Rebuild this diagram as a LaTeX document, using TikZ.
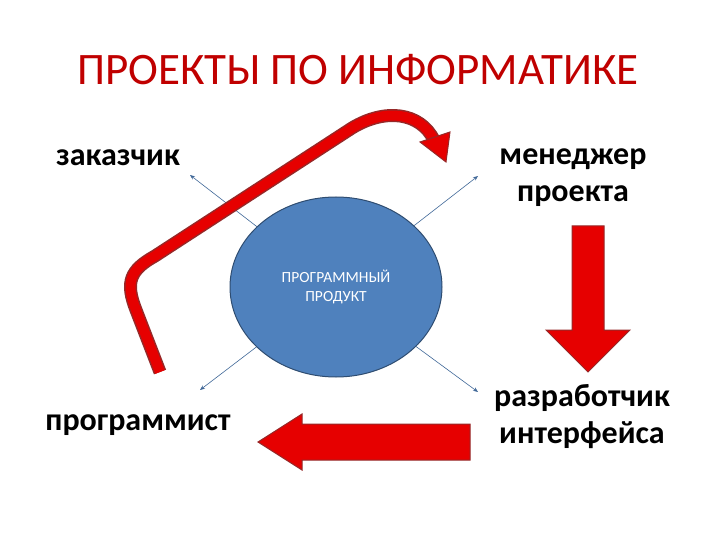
\documentclass[tikz,border=0pt]{standalone}
\usepackage{fontspec}
\setmainfont{Carlito}
\usetikzlibrary{arrows.meta,shapes.geometric}
\definecolor{ared}{RGB}{230,0,0}
\definecolor{aedge}{RGB}{150,40,40}
\definecolor{ell}{RGB}{79,129,189}
\definecolor{ttl}{RGB}{192,0,0}
\tikzset{lbl/.style={font=\fontsize{32}{37}\selectfont\bfseries, align=center},
 spoke/.style={draw=ell!80!black, line width=0.6pt, -{Stealth[length=5pt,width=4pt]}},
 bigarrow/.style={fill=ared, draw=aedge, line width=1pt}}
\begin{document}
\begin{tikzpicture}[x=1pt,y=-1pt]
\useasboundingbox (0,0) rectangle (720,540);
\node[text=ttl, font=\fontsize{45}{50}\selectfont] (title) at (358,70) {ПРОЕКТЫ ПО ИНФОРМАТИКЕ};
\node[lbl] (zak) at (118,158) {заказчик};
\node[lbl] (men) at (573,178) {менеджер\\проекта};
\node[lbl] (prog) at (138,425) {программист};
\node[lbl] (raz) at (582,417) {разработчик\\интерфейса};
\coordinate (c) at (335,287);
\coordinate (ul) at (190,175);
\coordinate (ur) at (478,176);
\coordinate (dl) at (200,390);
\coordinate (dr) at (478,392);
\draw[spoke] (c) -- (ul);
\draw[spoke] (c) -- (ur);
\draw[spoke] (c) -- (dl);
\draw[spoke] (c) -- (dr);
\node[ellipse, minimum width=212pt, minimum height=180pt, fill=ell, draw=ell!60!black, line width=1pt,
 text=white, font=\fontsize{15.5}{19}\selectfont, align=center] (prod) at (336,287) {ПРОГРАММНЫЙ\\ПРОДУКТ};
% curved red arrow
\coordinate (cs) at (160,372);
\draw[line width=13pt, aedge] (cs) -- (136,310) .. controls (125,282) and (130,270) .. (155,256)
 -- (352,128) .. controls (385,108) and (420,112) .. (434,140);
\draw[line width=10pt, ared] (cs) -- (136,310) .. controls (125,282) and (130,270) .. (155,256)
 -- (352,128) .. controls (385,108) and (420,112) .. (434,140);
\fill[ared, draw=aedge, line width=1pt] (420,142) -- (450,132) -- (446,162) -- cycle;
% down arrow
\draw[bigarrow] (572,226) -- (604,226) -- (604,330) -- (630,330) -- (588,372) -- (546,330) -- (572,330) -- cycle;
\draw[bigarrow] (470,424) -- (470,460) -- (302,460) -- (302,470) -- (258,442) -- (302,414) -- (302,424) -- cycle;
\end{tikzpicture}
\end{document}
